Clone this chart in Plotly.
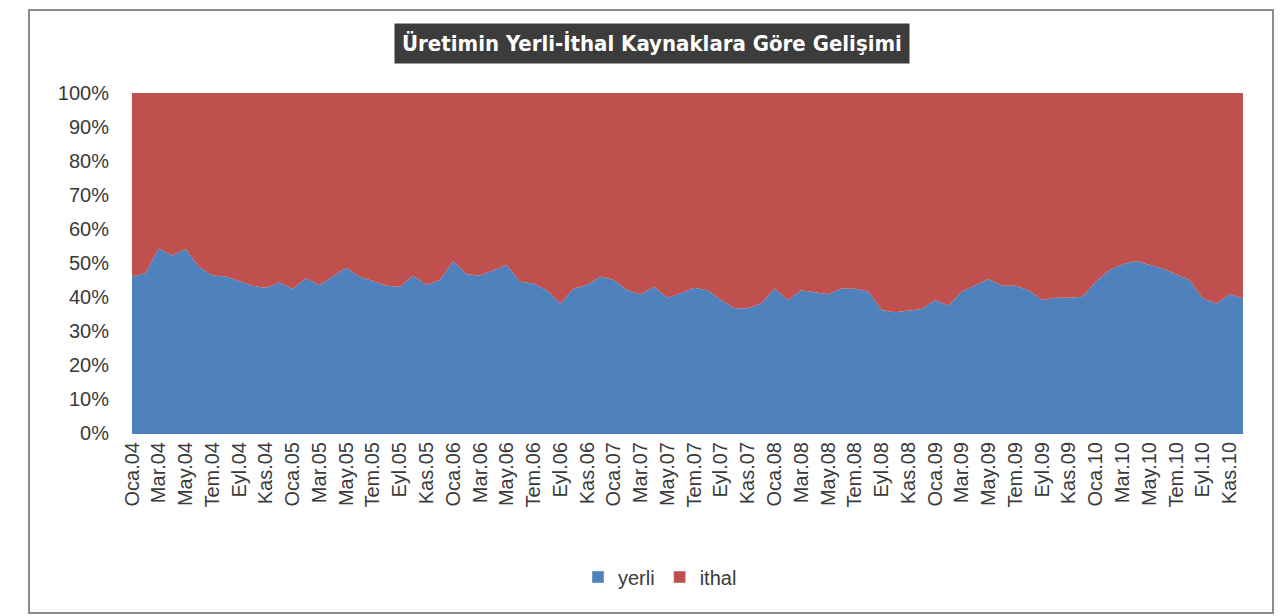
import plotly.graph_objects as go

month_names = ["Oca", "Şub", "Mar", "Nis", "May", "Haz", "Tem", "Ağu", "Eyl", "Eki", "Kas", "Ara"]
years = ["04", "05", "06", "07", "08", "09", "10"]
categories = [f"{m}.{y}" for y in years for m in month_names]

yerli = [46.0, 47.0, 54.3, 52.2, 54.1, 48.9, 46.3, 46.0, 44.7, 43.3, 42.7, 44.3,
         42.4, 45.5, 43.5, 46.0, 48.6, 46.0, 44.7, 43.3, 43.0, 46.3, 43.5, 45.0,
         50.6, 46.7, 46.3, 47.9, 49.4, 44.5, 44.0, 42.0, 38.1, 42.5, 43.5, 46.0,
         45.0, 42.0, 40.8, 43.0, 39.8, 41.1, 42.7, 42.0, 39.1, 36.7, 36.7, 38.1,
         42.5, 39.1, 42.0, 41.4, 40.8, 42.5, 42.4, 41.6, 36.2, 35.5, 35.9, 36.5,
         39.1, 37.5, 41.6, 43.5, 45.3, 43.3, 43.3, 42.0, 39.1, 39.8, 39.8, 40.1,
         44.5, 47.9, 49.6, 50.6, 49.6, 48.4, 46.7, 45.0, 39.6, 38.1, 40.8, 39.6]
ithal = [54.0, 53.0, 45.7, 47.8, 45.9, 51.1, 53.7, 54.0, 55.3, 56.7, 57.3, 55.7,
         57.6, 54.5, 56.5, 54.0, 51.4, 54.0, 55.3, 56.7, 57.0, 53.7, 56.5, 55.0,
         49.4, 53.3, 53.7, 52.1, 50.6, 55.5, 56.0, 58.0, 61.9, 57.5, 56.5, 54.0,
         55.0, 58.0, 59.2, 57.0, 60.2, 58.9, 57.3, 58.0, 60.9, 63.3, 63.3, 61.9,
         57.5, 60.9, 58.0, 58.6, 59.2, 57.5, 57.6, 58.4, 63.8, 64.5, 64.1, 63.5,
         60.9, 62.5, 58.4, 56.5, 54.7, 56.7, 56.7, 58.0, 60.9, 60.2, 60.2, 59.9,
         55.5, 52.1, 50.4, 49.4, 50.4, 51.6, 53.3, 55.0, 60.4, 61.9, 59.2, 60.4]

tick_labels = categories[::2][:42]
y_ticks = [0, 10, 20, 30, 40, 50, 60, 70, 80, 90, 100]
y_tick_text = [f"{v}%" for v in y_ticks]

title_text = "Üretimin Yerli-İthal Kaynaklara Göre Gelişimi"

OFF = 8  # page body margin
W, H = 1284 - OFF, 616 - OFF
L, R, T, B = 132 - OFF, 41, 93 - OFF, 183
pw, ph = W - L - R, H - T - B

def px(x):
    return (x - OFF - L) / pw

def py(y):
    return (H - B - (y - OFF)) / ph

blue, red = "#4F81BD", "#C0504D"

fig = go.Figure()
fig.add_trace(go.Scatter(x=categories, y=yerli, name="yerli", mode="lines",
                         line=dict(width=0, color=blue), fillcolor=blue,
                         stackgroup="one", groupnorm="percent", showlegend=False))
fig.add_trace(go.Scatter(x=categories, y=ithal, name="ithal", mode="lines",
                         line=dict(width=0, color=red), fillcolor=red,
                         stackgroup="one", showlegend=False))
# legend swatches
fig.add_trace(go.Bar(x=[None], y=[None], name="yerli", marker_color=blue))
fig.add_trace(go.Bar(x=[None], y=[None], name="ithal", marker_color=red))

tick_font = dict(family="Liberation Sans, Arial, sans-serif", size=20, color="#3a3a3a")

fig.update_layout(
    width=W, height=H,
    margin=dict(l=L, r=R, t=T, b=B),
    paper_bgcolor="white", plot_bgcolor="white",
    showlegend=True,
    legend=dict(orientation="h", x=px(660), y=py(577), xanchor="center", yanchor="middle",
                font=dict(family="Liberation Sans, Arial, sans-serif", size=20, color="#3a3a3a"),
                itemwidth=30, traceorder="normal"),
    xaxis=dict(type="category", categoryorder="array", categoryarray=categories,
               range=[0, len(categories) - 1], tickmode="array",
               tickvals=tick_labels, ticktext=tick_labels, tickangle=-90,
               tickfont=tick_font, showgrid=False, zeroline=False,
               showline=True, linecolor=blue, ticks=""),
    yaxis=dict(range=[0, 100], tickmode="array", tickvals=y_ticks, ticktext=y_tick_text,
               tickfont=tick_font, showgrid=False, zeroline=False, showline=False,
               ticks="", ticklabelstandoff=22),
    shapes=[dict(type="rect", xref="paper", yref="paper",
                 x0=px(29), x1=px(1273), y0=py(613), y1=py(10),
                 line=dict(color="#8c8c8c", width=2), fillcolor="rgba(0,0,0,0)", layer="below")],
    annotations=[dict(text="<b>" + title_text + "</b>", xref="paper", yref="paper",
                      x=px(652), y=py(43), xanchor="center", yanchor="middle", showarrow=False,
                      bgcolor="#3c3c3c", borderpad=7,
                      font=dict(family="Liberation Sans Narrow, DejaVu Sans Condensed, Roboto Condensed, Arial Narrow, sans-serif",
                                size=22, color="white"))],
)

fig.write_html("out.html")
